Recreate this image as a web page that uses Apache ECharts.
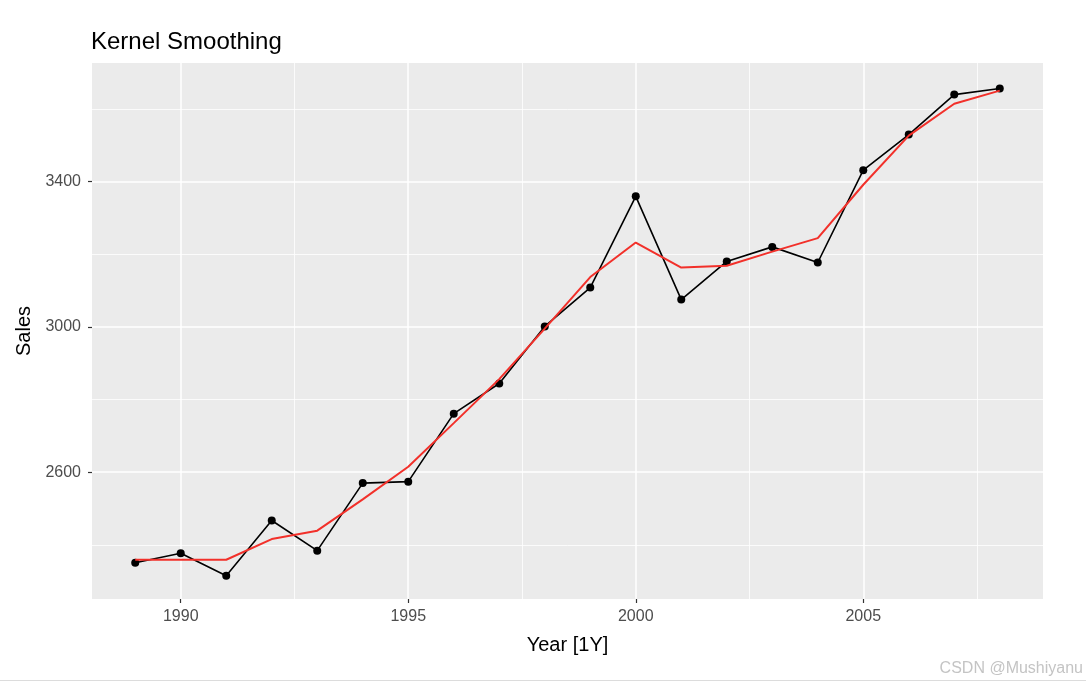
<!DOCTYPE html>
<html>
<head>
<meta charset="utf-8">
<script src="https://cdn.jsdelivr.net/npm/echarts@6/dist/echarts.min.js"></script>
<style>
html,body{margin:0;padding:0;background:#fff;}
#chart{width:1086px;height:690px;}
</style>
</head>
<body>
<div id="chart"></div>
<script>
const years = [1989,1990,1991,1992,1993,1994,1995,1996,1997,1998,1999,2000,2001,2002,2003,2004,2005,2006,2007,2008];
const sales = [2351,2377,2315,2467,2384,2570,2574,2761,2844,3001,3108,3359,3075,3180,3220,3177,3431,3529,3639,3656];
const smooth = [2359,2359,2359,2416,2439,2525,2615,2735,2856,2995,3137,3232,3163,3168,3207,3244,3391,3526,3614,3650];
const xTicks = [1990,1995,2000,2005];
const xMinor = [1992.5,1997.5,2002.5,2007.5];
const yTicks = [2600,3000,3400];
const yMinor = [2400,2800,3200,3600];
const xRange = [1988.05, 2008.95];
const yRange = [2251, 3726];

const FONT = '"Liberation Sans", Arial, sans-serif';
const chart = echarts.init(document.getElementById('chart'), null, {renderer:'canvas'});

const minorLines = xMinor.map(v => ({xAxis: v})).concat(yMinor.map(v => ({yAxis: v})));

chart.setOption({
  animation: false,
  backgroundColor: '#ffffff',
  title: {
    text: 'Kernel Smoothing',
    left: 91, top: 30, padding: 0,
    textStyle: {fontFamily: FONT, fontSize: 24, fontWeight: 'normal', color: '#000000'}
  },
  grid: {
    left: 92, right: 43, top: 63, bottom: 91,
    show: true, backgroundColor: '#EBEBEB', borderWidth: 0
  },
  xAxis: {
    type: 'value', min: xRange[0], max: xRange[1],
    name: 'Year [1Y]', nameLocation: 'middle', nameGap: 36,
    nameTextStyle: {fontFamily: FONT, fontSize: 20, color: '#000000'},
    axisLine: {show: false},
    axisTick: {show: true, customValues: xTicks, length: 4, lineStyle: {color: '#333333', width: 1.2}},
    axisLabel: {customValues: xTicks, margin: 10, fontFamily: FONT, fontSize: 16, color: '#4D4D4D', formatter: v => String(v)},
    splitLine: {show: true, lineStyle: {color: '#ffffff', width: 1.5}}
  },
  yAxis: {
    type: 'value', min: yRange[0], max: yRange[1],
    name: 'Sales', nameLocation: 'middle', nameGap: 52, nameRotate: 90,
    nameTextStyle: {fontFamily: FONT, fontSize: 20, color: '#000000'},
    axisLine: {show: false},
    axisTick: {show: true, customValues: yTicks, length: 4, lineStyle: {color: '#333333', width: 1.2}},
    axisLabel: {customValues: yTicks, margin: 11, fontFamily: FONT, fontSize: 16, color: '#4D4D4D', formatter: v => String(v)},
    splitLine: {show: true, lineStyle: {color: '#ffffff', width: 1.5}}
  },
  series: [
    {
      type: 'line', name: 'minor', data: [], silent: true, z: 1,
      markLine: {
        silent: true, symbol: ['none','none'], z: 1, animation: false,
        label: {show: false},
        lineStyle: {color: '#ffffff', width: 0.8, type: 'solid'},
        emphasis: {disabled: true},
        data: minorLines
      }
    },
    {
      type: 'line', name: 'Sales', z: 3,
      data: years.map((y, i) => [y, sales[i]]),
      symbol: 'circle', symbolSize: 8, showSymbol: true,
      itemStyle: {color: '#000000'},
      lineStyle: {color: '#000000', width: 1.6}
    },
    {
      type: 'line', name: 'Smooth', z: 4,
      data: years.map((y, i) => [y, smooth[i]]),
      symbol: 'none',
      lineStyle: {color: '#F2302A', width: 2}
    }
  ],
  graphic: [
    {type: 'rect', shape: {x: 0, y: 680, width: 1086, height: 1}, style: {fill: '#dcdcdc'}, silent: true},
    {type: 'text', right: 3, top: 661, style: {text: 'CSDN @Mushiyanu', font: '16px ' + FONT, fill: '#c4c4c4'}, silent: true}
  ]
});
</script>
</body>
</html>
